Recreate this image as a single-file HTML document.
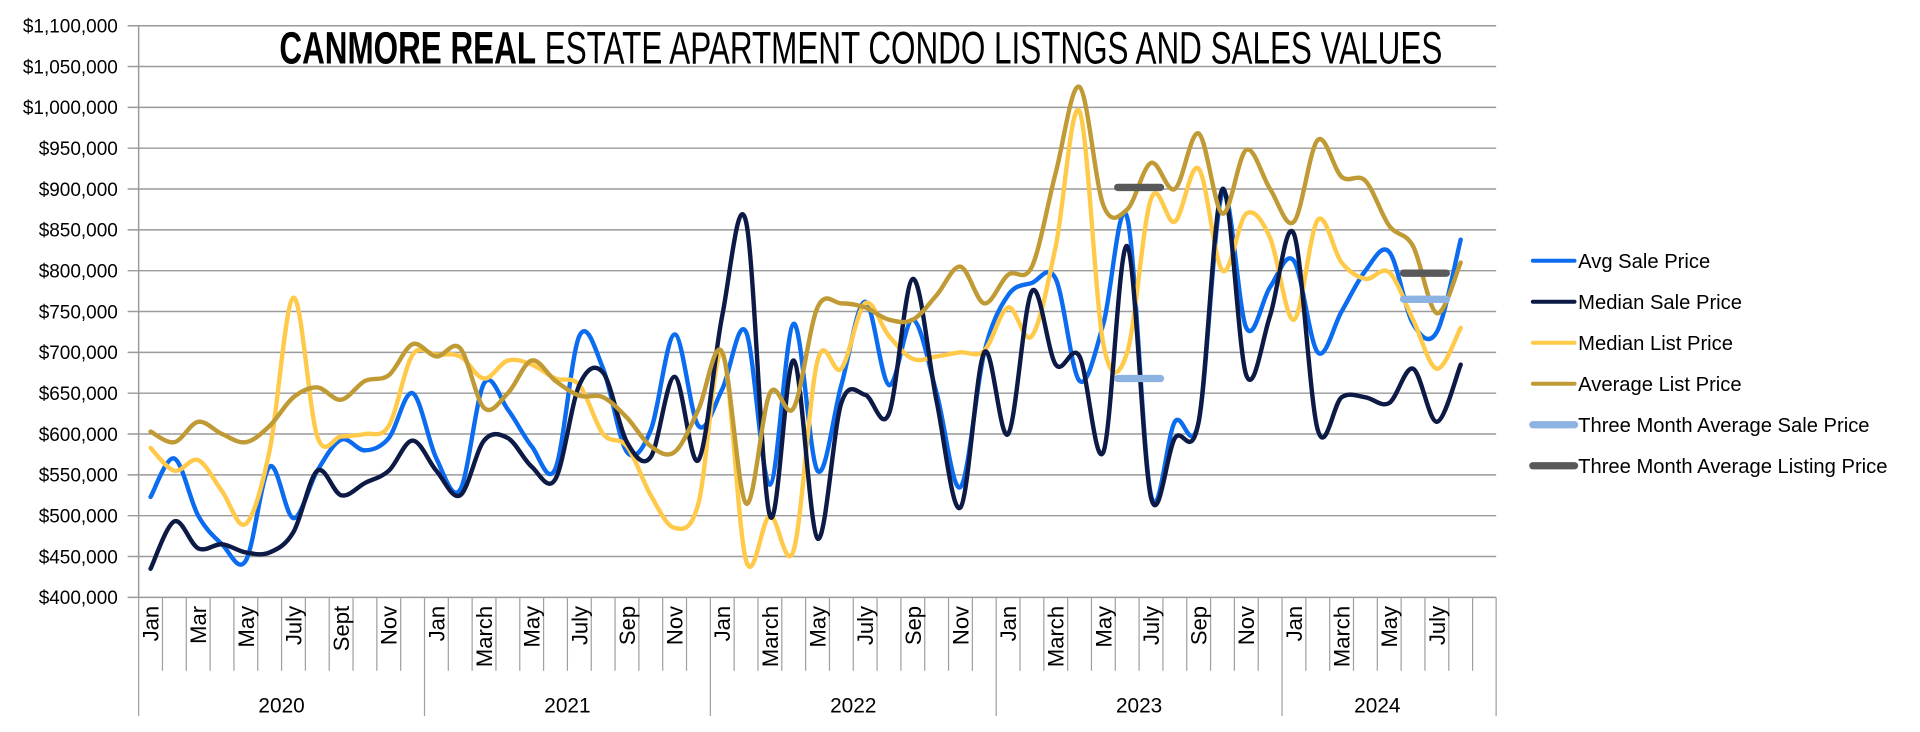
<!DOCTYPE html>
<html><head><meta charset="utf-8">
<style>
html,body{margin:0;padding:0;background:#fff;}
svg{display:block;}
text{font-family:"Liberation Sans",sans-serif;fill:#000;}
</style></head>
<body>
<svg id="chart" width="1920" height="732" viewBox="0 0 1568 598" xmlns="http://www.w3.org/2000/svg">
<g id="grid"></g>
<g id="yaxis"></g>
<g id="xaxis"></g>
<g id="series"></g>
<text x="228" y="52" font-size="37" textLength="950" lengthAdjust="spacingAndGlyphs" style="font-family:'Liberation Sans Narrow','Liberation Sans',sans-serif"><tspan font-weight="bold">CANMORE REAL</tspan> ESTATE  APARTMENT CONDO LISTNGS AND SALES VALUES</text>
<g id="legend"></g>
</svg>
<script>
const years = ["2020","2021","2022","2023","2024"];
const monthLabels = ["Jan","","Mar","","May","","July","","Sept","","Nov","",
"Jan","","March","","May","","July","","Sep","","Nov","",
"Jan","","March","","May","","July","","Sep","","Nov","",
"Jan","","March","","May","","July","","Sep","","Nov","",
"Jan","","March","","May","","July",""];
const yTicks = [400000,450000,500000,550000,600000,650000,700000,750000,800000,850000,900000,950000,1000000,1050000,1100000];
const avgSale = [523,570,500,465,445,560,497,555,593,580,595,650, 570,532,662,630,585,558,720,680,578,605,722,610, 655,725,538,735,555,660,762,660,740,650,535,700, 770,785,790,665,735,865,525,615,615,895,730,780, 812,700,750,800,823,735,725,838];
const medianSale = [435,493,460,465,455,455,480,555,525,540,555,592, 555,525,592,595,560,545,660,675,590,572,670,568, 745,860,500,690,472,638,648,625,790,640,510,700, 600,775,685,695,578,830,522,595,615,900,672,745, 845,605,645,645,638,680,615,685];
const medianList = [583,555,568,530,490,580,767,597,597,600,610,697, 697,695,668,690,685,668,660,600,585,525,485,515, 700,445,500,458,690,680,760,720,692,695,700,702, 755,720,830,995,710,700,888,860,925,800,870,840, 740,862,810,790,798,740,680,730];
const avgList = [603,590,615,600,590,610,645,657,642,665,672,710, 695,705,632,650,690,665,647,645,620,585,578,630, 700,515,650,632,755,760,755,740,740,770,805,760, 795,805,920,1025,880,875,932,900,968,870,948,900, 860,960,915,910,855,830,748,810];
const threeMoSale = [{from:41,to:42,v:668},{from:53,to:54,v:765}];
const threeMoList = [{from:41,to:42,v:902},{from:53,to:54,v:797}];

const X0=113, MW=19.46, Y0=488, YT=21, VMIN=400000, VMAX=1100000, XEND=1222;
const xc = i => X0 + MW*(i+0.5);
const xb = i => X0 + MW*i;
const yv = v => Y0 - (v-VMIN)/(VMAX-VMIN)*(Y0-YT);
const NS="http://www.w3.org/2000/svg";
function mk(tag, parent, attrs){const e=document.createElementNS(NS,tag);for(const k in attrs)e.setAttribute(k,attrs[k]);parent.appendChild(e);return e;}

const grid=document.getElementById('grid'), ya=document.getElementById('yaxis'), xa=document.getElementById('xaxis'), ser=document.getElementById('series'), leg=document.getElementById('legend');
yTicks.forEach(t=>{
  const l=mk('line',grid,{x1:104,x2:XEND,y1:yv(t),y2:yv(t),stroke:'#9a9a9a','stroke-width':1.2});
  
  
  const tx=mk('text',ya,{x:96,y:yv(t)+5.5,'font-size':15.5,'text-anchor':'end'});
  tx.textContent='$'+t.toLocaleString('en-US');
  
  
});
mk('line',ya,{x1:X0,x2:X0,y1:YT,y2:Y0,stroke:'#9a9a9a','stroke-width':1.2});
const N=monthLabels.length;
for(let i=0;i<=N+1;i++){
  const x=i<=N?xb(i):XEND;
  const isYear=(i%12===0)||i===N+1;
  mk('line',xa,{x1:x,x2:x,y1:Y0,y2:isYear?585:548,stroke:'#a0a0a0','stroke-width':1});
}
monthLabels.forEach((m,i)=>{
  if(!m)return;
  const x=xc(i)+6.5, y=495;
  const t=mk('text',xa,{x:x,y:y,'font-size':18,'text-anchor':'end',transform:`rotate(-90 ${x} ${y})`});
  t.textContent=m;
  
  
});
years.forEach((yr,k)=>{
  const s=k*12, e=Math.min((k+1)*12,N);
  const t=mk('text',xa,{x:(xb(s)+xb(e))/2,y:582,'font-size':17,'text-anchor':'middle'});
  t.textContent=yr;
  
  
});

function smoothPath(vals){
  const p=vals.map((v,i)=>[xc(i),yv(v*1000)]);
  let d=`M${p[0][0]},${p[0][1]}`;
  for(let i=0;i<p.length-1;i++){
    const p0=p[i-1]||p[i],p1=p[i],p2=p[i+1],p3=p[i+2]||p[i+1];
    const c1=[p1[0]+(p2[0]-p0[0])/6,p1[1]+(p2[1]-p0[1])/6];
    const c2=[p2[0]-(p3[0]-p1[0])/6,p2[1]-(p3[1]-p1[1])/6];
    d+=` C${c1[0]},${c1[1]} ${c2[0]},${c2[1]} ${p2[0]},${p2[1]}`;
  }
  return d;
}
const series=[
  {name:'avg-sale-price-line',vals:avgSale,color:'#0b6cf0'},
  {name:'median-list-price-line',vals:medianList,color:'#ffc94a'},
  {name:'median-sale-price-line',vals:medianSale,color:'#0c1a45'},
  {name:'average-list-price-line',vals:avgList,color:'#c09a34'}
];
series.forEach(s=>{
  const p=mk('path',ser,{d:smoothPath(s.vals),fill:'none',stroke:s.color,'stroke-width':3.6,'stroke-linejoin':'round','stroke-linecap':'round'});
  
  
});
threeMoSale.forEach(m=>{
  const l=mk('line',ser,{x1:xb(m.from)+2,x2:xb(m.to+1)-2,y1:yv(m.v*1000),y2:yv(m.v*1000),stroke:'#8db3e2','stroke-width':6,'stroke-linecap':'round'});
  
  
});
threeMoList.forEach(m=>{
  const l=mk('line',ser,{x1:xb(m.from)+2,x2:xb(m.to+1)-2,y1:yv(m.v*1000),y2:yv(m.v*1000),stroke:'#595959','stroke-width':6,'stroke-linecap':'round'});
  
  
});

const legendItems=[
  ['Avg Sale Price','#0b6cf0',3.3],['Median Sale Price','#0c1a45',3.3],['Median List Price','#ffc94a',3.3],
  ['Average List Price','#c09a34',3.3],['Three Month Average Sale Price','#8db3e2',6],['Three Month Average Listing Price','#595959',6]
];
legendItems.forEach((it,k)=>{
  const y=213+k*33.5;
  const l=mk('line',leg,{x1:1252,x2:1286,y1:y,y2:y,stroke:it[1],'stroke-width':it[2],'stroke-linecap':'round'});
  
  
  const t=mk('text',leg,{x:1289,y:y+6,'font-size':16.5});
  t.textContent=it[0];
  
  
});
</script>
</body></html>
